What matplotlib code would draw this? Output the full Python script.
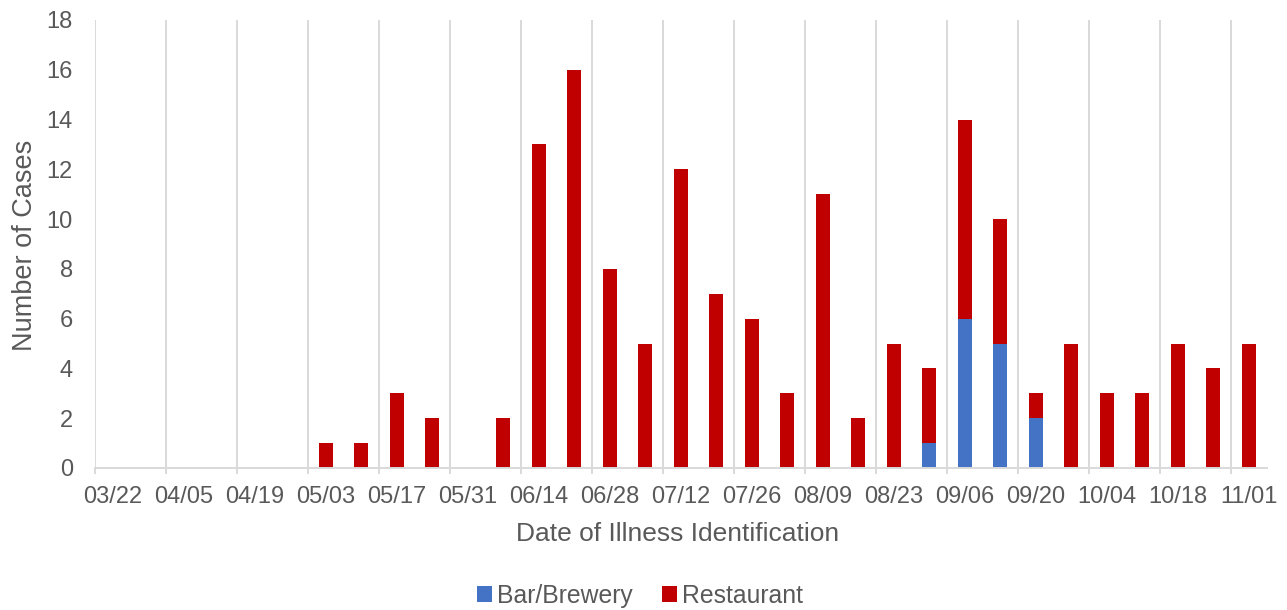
import matplotlib
matplotlib.use("Agg")
import matplotlib.pyplot as plt
from matplotlib.patches import Patch
import numpy as np

plt.rcParams['font.family'] = ['Liberation Sans', 'DejaVu Sans']

weeks = ['03/22', '03/29', '04/05', '04/12', '04/19', '04/26', '05/03', '05/10',
         '05/17', '05/24', '05/31', '06/07', '06/14', '06/21', '06/28', '07/05',
         '07/12', '07/19', '07/26', '08/02', '08/09', '08/16', '08/23', '08/30',
         '09/06', '09/13', '09/20', '09/27', '10/04', '10/11', '10/18', '10/25',
         '11/01']
bar_brewery = [0, 0, 0, 0, 0, 0, 0, 0, 0, 0, 0, 0, 0, 0, 0, 0, 0, 0, 0, 0, 0, 0,
               0, 1, 6, 5, 2, 0, 0, 0, 0, 0, 0]
restaurant = [0, 0, 0, 0, 0, 0, 1, 1, 3, 2, 0, 2, 13, 16, 8, 5, 12, 7, 6, 3, 11, 2,
              5, 3, 8, 5, 1, 5, 3, 3, 5, 4, 5]
y_ticks = [0, 2, 4, 6, 8, 10, 12, 14, 16, 18]

BLUE = '#4472C4'
RED = '#C00000'
TXT = '#595959'
GRID = '#D9D9D9'

W, H = 1287, 610
fig = plt.figure(figsize=(W / 100, H / 100), dpi=100)
left, right, bottom, top = 95, 1266.5, 468, 20
ax = fig.add_axes([left / W, 1 - bottom / H, (right - left) / W, (bottom - top) / H])

x = np.arange(len(weeks))
ax.bar(x, bar_brewery, width=0.4, color=BLUE, zorder=3)
ax.bar(x, restaurant, width=0.4, bottom=bar_brewery, color=RED, zorder=3)

ax.set_xlim(-0.5, len(weeks) - 0.5)
ax.set_ylim(0, 18)
ax.set_yticks(y_ticks)

# labels every other week at category centres
ax.set_xticks(x[::2])
ax.set_xticklabels(weeks[::2])
# boundaries every two weeks: gridlines and tick marks
bounds = np.arange(-0.5, len(weeks) - 0.5, 2)
ax.set_xticks(bounds, minor=True)
ax.tick_params(axis='x', which='major', length=0, pad=13, labelsize=17, labelcolor=TXT)
ax.tick_params(axis='x', which='minor', length=4, width=1.4, color=GRID, direction='out')
ax.tick_params(axis='y', length=0, pad=16, labelsize=17, labelcolor=TXT)
ax.grid(axis='x', which='minor', color=GRID, linewidth=1.4, zorder=0)
ax.grid(axis='x', which='major', visible=False)

for s in ['top', 'right', 'left']:
    ax.spines[s].set_visible(False)
ax.spines['bottom'].set_color(GRID)
ax.spines['bottom'].set_linewidth(1.4)
ax.spines['bottom'].set_zorder(4)

fig.text(678 / W, 1 - 534 / H, 'Date of Illness Identification', ha='center', va='center',
         fontsize=19, color=TXT)
fig.text(25 / W, 1 - 245 / H, 'Number of Cases', ha='center', va='center',
         rotation=90, fontsize=19.5, color=TXT)

handles = [Patch(facecolor=BLUE, label='Bar/Brewery'), Patch(facecolor=RED, label='Restaurant')]
fig.legend(handles=handles, loc='center', bbox_to_anchor=(640 / W, 1 - 596 / H), ncol=2,
           frameon=False, fontsize=17.8, labelcolor=TXT, handlelength=0.6, handleheight=0.6,
           handletextpad=0.2, columnspacing=1.2)

fig.savefig('out.png', dpi=100)
